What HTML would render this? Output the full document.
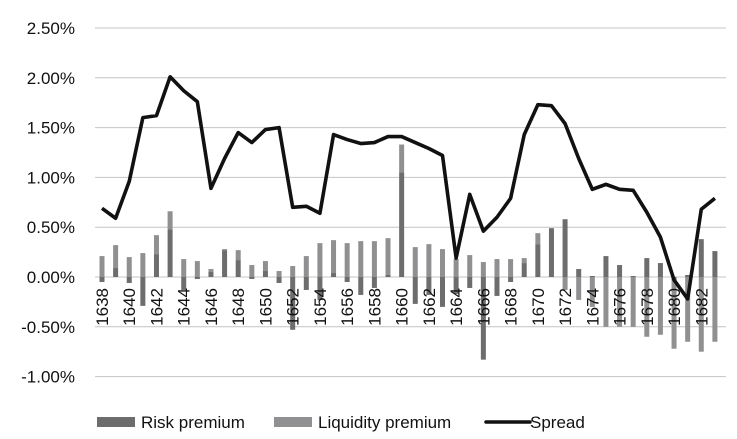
<!DOCTYPE html>
<html><head><meta charset="utf-8"><style>
body{margin:0;background:#fff;}
svg{display:block;font-family:"Liberation Sans",Arial,sans-serif;}
</style></head><body>
<svg id="chart" width="737" height="439"></svg>
<script>
const years=[];for(let y=1638;y<=1683;y++)years.push(y);
const riskPremium=[-0.05,0.09,-0.06,-0.29,0.23,0.48,-0.13,-0.02,0.05,0.27,0.17,-0.02,0.06,-0.06,-0.53,-0.13,-0.23,0.04,-0.05,-0.18,-0.11,0.02,1.05,-0.27,-0.18,-0.30,-0.17,-0.11,-0.83,-0.19,-0.05,0.14,0.33,0.49,0.58,0.08,0.01,0.21,0.12,0.01,0.19,0.14,-0.03,0.02,0.38,0.26];
const liquidityPremium=[0.21,0.23,0.20,0.24,0.19,0.18,0.18,0.16,0.03,0.01,0.10,0.12,0.10,0.06,0.11,0.21,0.34,0.33,0.34,0.36,0.36,0.37,0.28,0.30,0.33,0.28,0.18,0.22,0.15,0.18,0.18,0.05,0.11,0.00,-0.13,-0.23,-0.30,-0.50,-0.50,-0.50,-0.60,-0.58,-0.69,-0.65,-0.75,-0.65];
const spread=[0.69,0.59,0.96,1.60,1.62,2.01,1.87,1.76,0.89,1.19,1.45,1.35,1.48,1.50,0.70,0.71,0.64,1.43,1.38,1.34,1.35,1.41,1.41,1.35,1.29,1.22,0.19,0.83,0.46,0.60,0.79,1.43,1.73,1.72,1.54,1.19,0.88,0.93,0.88,0.87,0.65,0.40,-0.03,-0.22,0.68,0.79];
const yTicks=[2.5,2.0,1.5,1.0,0.5,0,-0.5,-1.0];
const NS="http://www.w3.org/2000/svg";
const svg=document.getElementById('chart');
const y0=277,pxPer=99.6;
const yS=v=>y0-v*pxPer;
const xS=i=>102+i*13.62;
function mk(t,a,p){const e=document.createElementNS(NS,t);for(const k in a)e.setAttribute(k,a[k]);(p||svg).appendChild(e);return e;}
yTicks.forEach(t=>{
 const g=mk('line',{x1:95,x2:726,y1:yS(t),y2:yS(t),stroke:'#c4c4c4','stroke-width':1});
 
 
 const l=mk('text',{x:75,y:yS(t)+6,'text-anchor':'end','font-size':17,fill:'#111'});
 l.textContent=t.toFixed(2)+'%';
 
 
});
years.forEach((yr,i)=>{
 const x=xS(i),w=5;
 const r=riskPremium[i],q=liquidityPremium[i];
 let pos=0,neg=0;
 [[r,'#6d6d6d','risk-bar'],[q,'#909092','liquidity-bar']].forEach(([v,c,n])=>{
  let top,h;
  if(v>=0){top=yS(pos+v);h=v*pxPer;pos+=v;}else{top=yS(neg);h=-v*pxPer;neg+=v;}
  const b=mk('rect',{x:x-w/2,y:top,width:w,height:h,fill:c});
  
  
 });
 if(yr%2===0){
  const t=mk('text',{x:0,y:0,'font-size':17,fill:'#111','text-anchor':'end',transform:`translate(${x+6},${288}) rotate(-90)`});
  t.textContent=yr;
  
  
 }
});
const line=mk('polyline',{points:spread.map((v,i)=>xS(i)+','+yS(v)).join(' '),fill:'none',stroke:'#111','stroke-width':3.6,'stroke-linejoin':'round'});


const leg=[[97,'#6d6d6d','Risk premium',141,'legend-risk'],[274,'#909092','Liquidity premium',318,'legend-liquidity']];
leg.forEach(([sx,c,t,tx,n])=>{
 const g=mk('g',{});
 
 
 mk('rect',{x:sx,y:417,width:38,height:10,fill:c},g);
 const tt=mk('text',{x:tx,y:428,'font-size':17,fill:'#111'},g);tt.textContent=t;
});
const g3=mk('g',{});


mk('line',{x1:486,x2:530,y1:422,y2:422,stroke:'#111','stroke-width':3.5,'stroke-linecap':'round'},g3);
const st=mk('text',{x:530,y:428,'font-size':17,fill:'#111'},g3);st.textContent='Spread';
</script>
</body></html>
